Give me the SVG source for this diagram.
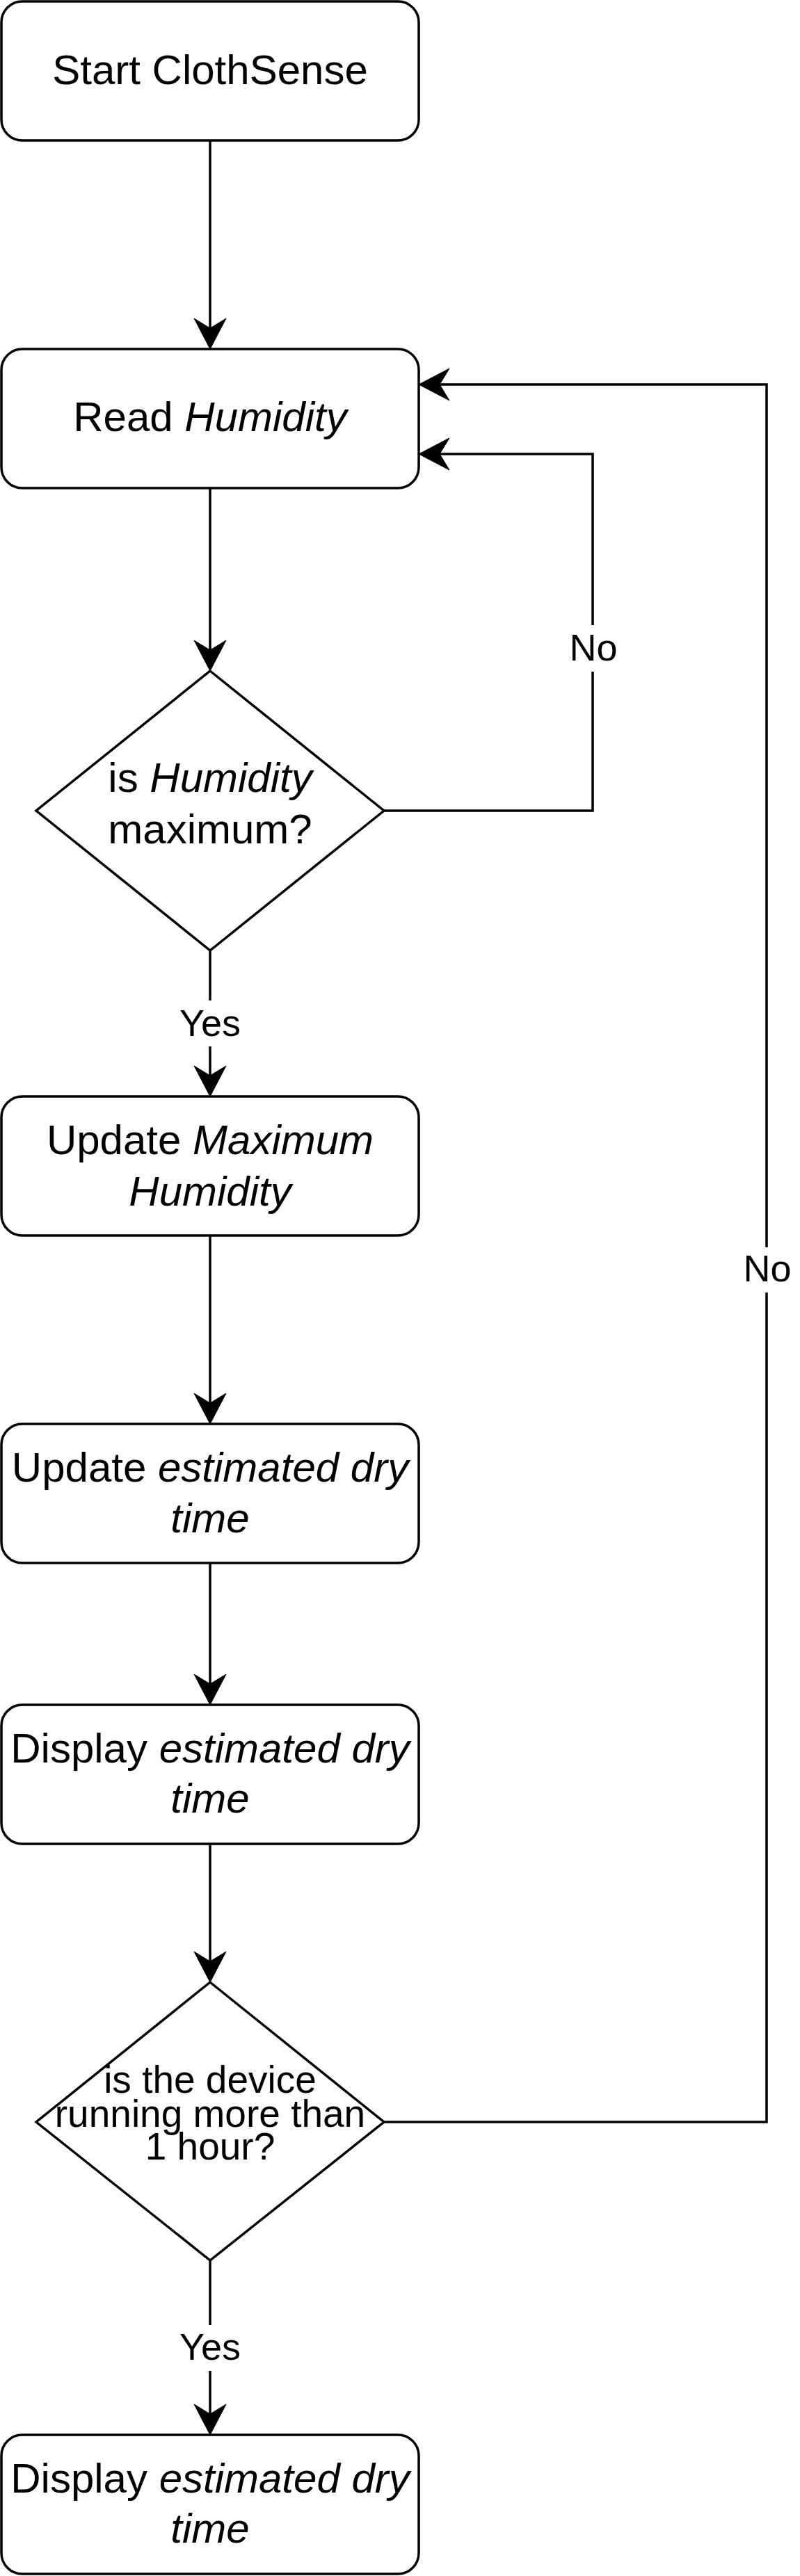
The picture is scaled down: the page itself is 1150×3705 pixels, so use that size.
<svg xmlns="http://www.w3.org/2000/svg" width="1150" height="3705" viewBox="0 0 1150 3705">
<style>
.box{fill:#fff;stroke:#000;stroke-width:3.5}
.edge{fill:none;stroke:#000;stroke-width:3.5}
.t{font-family:"Liberation Sans",Arial,Helvetica,sans-serif;font-size:60px;fill:#000;text-anchor:middle}
.d2{font-size:55px}
.lbl{font-family:"Liberation Sans",Arial,Helvetica,sans-serif;font-size:54px;fill:#000;text-anchor:middle}
.bg{fill:#fff;stroke:none}
.i{font-style:italic}
</style>
<defs>
<marker id="arr" viewBox="-16 -25 48 50" refX="0" refY="0" markerWidth="48" markerHeight="50" markerUnits="userSpaceOnUse" orient="auto">
<path d="M30,0 L-14,-23 L0,0 L-14,23 Z" fill="#000" stroke="#000" stroke-width="1"/>
</marker>
</defs>
<g id="connectors">
<path class="edge" d="M302,202 L302,472" marker-end="url(#arr)"/>
<path class="edge" d="M302,702 L302,935" marker-end="url(#arr)"/>
<path class="edge" d="M552,1166 L852,1166 L852,653 L632,653" marker-end="url(#arr)"/>
<path class="edge" d="M302,1367 L302,1547" marker-end="url(#arr)"/>
<path class="edge" d="M302,1777 L302,2018" marker-end="url(#arr)"/>
<path class="edge" d="M302,2248 L302,2422" marker-end="url(#arr)"/>
<path class="edge" d="M302,2652 L302,2821" marker-end="url(#arr)"/>
<path class="edge" d="M552,3052 L1102,3052 L1102,553 L632,553" marker-end="url(#arr)"/>
<path class="edge" d="M302,3251 L302,3472" marker-end="url(#arr)"/>
<g id="label-no1">
<rect class="bg" x="818" y="899" width="68" height="67"/>
<text class="lbl" x="853" y="950">No</text>
</g>
<g id="label-no2">
<rect class="bg" x="1068" y="1794" width="68" height="65"/>
<text class="lbl" x="1103" y="1843">No</text>
</g>
<g id="label-yes1">
<rect class="bg" x="256" y="1439" width="92" height="66"/>
<text class="lbl" x="302" y="1490">Yes</text>
</g>
<g id="label-yes2">
<rect class="bg" x="256" y="3344" width="92" height="66"/>
<text class="lbl" x="302" y="3394">Yes</text>
</g>
</g>
<g id="start">
<rect class="box" x="2" y="2" width="600" height="200" rx="30" ry="30"/>
<text class="t" x="302" y="121">Start ClothSense</text>
</g>
<g id="read-humidity">
<rect class="box" x="2" y="502" width="600" height="200" rx="30" ry="30"/>
<text class="t" x="302" y="620">Read <tspan class="i">Humidity</tspan></text>
</g>
<g id="is-max">
<polygon class="box" points="302,965 552,1166 302,1367 52,1166"/>
<text class="t" x="302" y="1139">is <tspan class="i">Humidity</tspan></text>
<text class="t" x="302" y="1213">maximum?</text>
</g>
<g id="update-max">
<rect class="box" x="2" y="1577" width="600" height="200" rx="30" ry="30"/>
<text class="t" x="302" y="1660">Update <tspan class="i">Maximum</tspan></text>
<text class="t i" x="302" y="1734">Humidity</text>
</g>
<g id="update-est">
<rect class="box" x="2" y="2048" width="600" height="200" rx="30" ry="30"/>
<text class="t" x="302" y="2131">Update <tspan class="i">estimated dry</tspan></text>
<text class="t i" x="302" y="2204">time</text>
</g>
<g id="display-est">
<rect class="box" x="2" y="2452" width="600" height="200" rx="30" ry="30"/>
<text class="t" x="302" y="2535">Display <tspan class="i">estimated dry</tspan></text>
<text class="t i" x="302" y="2607">time</text>
</g>
<g id="is-hour">
<polygon class="box" points="302,2851 552,3052 302,3251 52,3052"/>
<text class="t d2" x="302" y="3010">is the device</text>
<text class="t d2" x="302" y="3059">running more than</text>
<text class="t d2" x="302" y="3106">1 hour?</text>
</g>
<g id="display-final">
<rect class="box" x="2" y="3502" width="600" height="200" rx="30" ry="30"/>
<text class="t" x="302" y="3585">Display <tspan class="i">estimated dry</tspan></text>
<text class="t i" x="302" y="3657">time</text>
</g>
</svg>
